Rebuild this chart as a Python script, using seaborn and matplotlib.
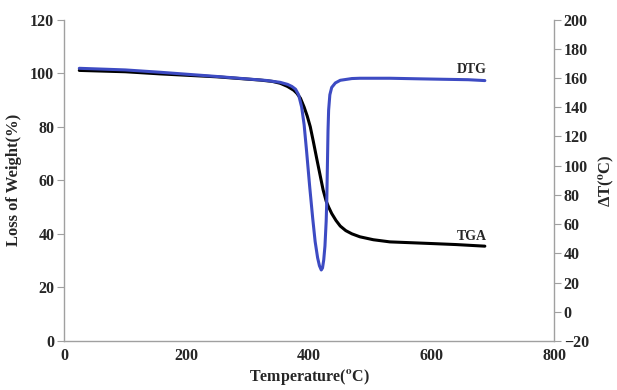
import pandas as pd
import matplotlib
matplotlib.use("Agg")
import matplotlib.pyplot as plt
import seaborn as sns

# TGA curve (left axis, %)
tga_temp = [25, 100, 157, 250, 320, 340, 353, 365, 375, 380, 386, 392, 397, 402, 407, 413, 418, 423, 428,
            432, 437, 444, 451, 460, 470, 483, 505, 532, 565, 598, 640, 687]
tga_loss = [101.0, 100.5, 99.7, 98.6, 97.4, 96.9, 96.2, 95.0, 93.6, 92.5, 90.6, 87.3, 84.0, 80.0, 74.5, 67.6,
            62.0, 56.4, 52.2, 50.0, 47.6, 45.0, 42.9, 41.2, 40.0, 38.9, 37.8, 37.0, 36.7, 36.4, 36.0, 35.4]

# DTG curve (right axis, delta T)
dtg_temp = [25, 100, 157, 250, 300, 330, 353, 365, 372, 378, 383, 388, 392, 396, 401, 406, 410, 414, 417,
            420, 422, 424, 426, 428, 429, 430, 431, 432, 434, 437, 443, 451, 470, 483, 532, 580, 619, 660, 687]
dtg_val = [166.6, 165.5, 163.9, 161.0, 159.3, 158.3, 157.0, 155.6, 154.2, 152.3, 148.5, 140.0, 128.0, 110.0,
           86.0, 64.0, 48.0, 37.0, 31.5, 28.6, 30.0, 35.5, 45.0, 62.0, 76.5, 100.0, 124.0, 138.0, 148.5,
           153.5, 156.6, 158.4, 159.6, 159.8, 159.8, 159.4, 159.1, 158.8, 158.2]

sns.set_style("white")
plt.rcParams["font.family"] = ["Liberation Serif", "DejaVu Serif"]
plt.rcParams["mathtext.fontset"] = "stix"

tga = pd.DataFrame({"Temperature": tga_temp, "TGA": tga_loss})
dtg = pd.DataFrame({"Temperature": dtg_temp, "DTG": dtg_val})

fig, ax = plt.subplots(figsize=(6.17, 3.9), dpi=100)
fig.subplots_adjust(left=0.1037, right=0.898, bottom=0.1256, top=0.95)
ax2 = ax.twinx()

sns.lineplot(data=tga, x="Temperature", y="TGA", ax=ax, color="black", linewidth=2.2)
sns.lineplot(data=dtg, x="Temperature", y="DTG", ax=ax2, color="#3D4BC3", linewidth=2.2)

ax.set_xlim(0, 800)
ax.set_ylim(0, 120)
ax2.set_ylim(-20, 200)
ax.set_xticks(range(0, 801, 200))
ax.set_yticks(range(0, 121, 20))
ax2.set_yticks(range(-20, 201, 20))

grey = "#a0a0a0"
for a in (ax, ax2):
    for s in a.spines.values():
        s.set_color(grey)
        s.set_linewidth(1.0)
    a.spines["top"].set_visible(False)
ax.spines["right"].set_visible(False)
ax2.spines["left"].set_visible(False)
ax2.spines["bottom"].set_visible(False)

ax.tick_params(axis="x", direction="in", length=5, color=grey, labelsize=11.5, pad=5)
ax.tick_params(axis="y", direction="out", length=5, color=grey, labelsize=11.5, pad=2, left=True)
ax2.tick_params(axis="y", direction="out", length=5, color=grey, labelsize=11.5, pad=2, right=True)
for lab in ax.get_xticklabels() + ax.get_yticklabels() + ax2.get_yticklabels():
    lab.set_fontweight("bold")

ax.set_xlabel(r"Temperature($\mathbf{^{o}}$C)", fontsize=11.5, fontweight="bold", labelpad=2)
ax.set_ylabel("Loss of Weight(%)", fontsize=12, fontweight="bold", labelpad=6)
ax2.set_ylabel(r"ΔT($\mathbf{^{o}}$C)", fontsize=12, fontweight="bold", labelpad=6)

# curve labels
ax2.text(690, 161.5, "DTG", ha="right", va="bottom", fontsize=10, fontweight="bold")
ax.text(690, 36.5, "TGA", ha="right", va="bottom", fontsize=10, fontweight="bold")

fig.savefig("out.png", dpi=100)
